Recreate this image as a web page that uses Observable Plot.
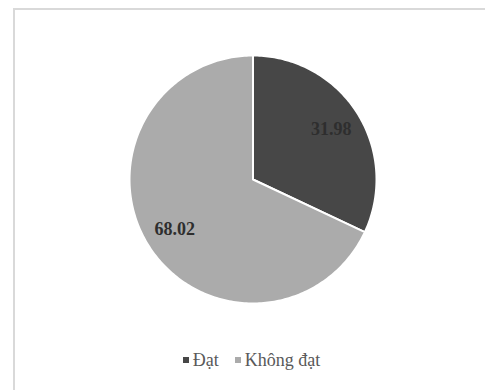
<!DOCTYPE html>
<html>
<head>
<meta charset="utf-8">
<script src="https://cdn.jsdelivr.net/npm/d3@7"></script>
<script src="https://cdn.jsdelivr.net/npm/@observablehq/plot@0.6"></script>
<style>
  body { margin: 0; background: #fff; }
  #wrap { position: relative; width: 485px; height: 390px; overflow: hidden; background: #fff; }
  #frame { position: absolute; left: 13px; top: 8px; width: 600px; height: 600px;
           border-top: 2px solid #d9d9d9; border-left: 2px solid #d9d9d9; }
  #chart { position: absolute; left: 0; top: 0; }
  #legend { position: absolute; left: 0; width: 467px; padding-left: 18px; top: 350px; text-align: center;
            font-family: 'Liberation Serif', 'Times New Roman', serif; font-size: 18px; color: #595959; }
  .item { display: inline-block; margin: 0 8px; }
  .sw { display: inline-block; width: 6px; height: 6px; margin-right: 4px; vertical-align: 3px; }
</style>
</head>
<body>
<div id="wrap"><div id="frame"></div><div id="chart"></div><div id="legend"></div></div>
<script>
const categories = ["Đạt", "Không đạt"];
const values = [31.98, 68.02];
const labels = ["31.98", "68.02"];
const colors = ["#474747", "#ababab"];

const total = d3.sum(values);
const slices = [];
const polys = [];
let start = 0;
categories.forEach((c, i) => {
  const a0 = start / total * 2 * Math.PI;
  const a1 = (start + values[i]) / total * 2 * Math.PI;
  start += values[i];
  const n = Math.max(2, Math.ceil((a1 - a0) / (Math.PI / 180)));
  polys.push({key: c, x: 0, y: 0});
  for (let k = 0; k <= n; k++) {
    const a = a0 + (a1 - a0) * k / n;
    polys.push({key: c, x: Math.sin(a), y: Math.cos(a)});
  }
  polys.push({key: c, x: 0, y: 0});
  const m = (a0 + a1) / 2;
  slices.push({key: c, label: labels[i], x: 0.75 * Math.sin(m), y: 0.75 * Math.cos(m)});
});

const chart = Plot.plot({
  width: 485,
  height: 340,
  x: {domain: [-1, 1], range: [129, 376], axis: null},
  y: {domain: [-1, 1], range: [303, 55], axis: null},
  color: {domain: categories, range: colors},
  marks: [
    Plot.line(polys, {x: "x", y: "y", z: "key", fill: "key", stroke: "#fff", strokeWidth: 2, curve: "linear"}),
    Plot.text(slices, {x: "x", y: "y", text: "label", fill: "#2e2e2e", fontSize: 18, fontWeight: "bold",
      fontFamily: "'Liberation Serif', 'Times New Roman', serif"})
  ],
  style: {background: "transparent", overflow: "visible", fontFamily: "'Liberation Serif', serif"}
});
document.getElementById("chart").appendChild(chart);

const leg = document.getElementById("legend");
categories.forEach((c, i) => {
  const s = document.createElement("span");
  s.className = "item";
  s.innerHTML = `<span class="sw" style="background:${colors[i]}"></span>${c}`;
  leg.appendChild(s);
});
</script>
</body>
</html>
